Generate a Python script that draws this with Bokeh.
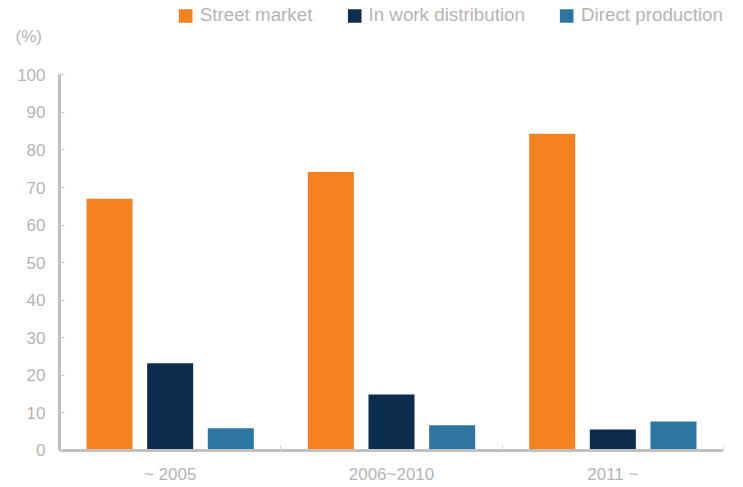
from bokeh.plotting import figure
from bokeh.models import (ColumnDataSource, Range1d, LinearAxis, FixedTicker,
                          Legend, LegendItem, Label)
from bokeh.transform import dodge
from bokeh.embed import file_html
from bokeh.resources import INLINE

# ---- data ----
periods = ["~ 2005", "2006~2010", "2011 ~"]
street_market = [67.0, 74.1, 84.3]
in_work_distribution = [23.2, 14.9, 5.6]
direct_production = [5.9, 6.7, 7.7]
y_ticks = [0, 10, 20, 30, 40, 50, 60, 70, 80, 90, 100]
series_names = ["Street market", "In work distribution", "Direct production"]
y_unit = "(%)"

# ---- styles ----
colors = ["#F4821F", "#0D2D4F", "#2C76A1"]
offsets = [-0.274, 0.0, 0.274]
bar_w = 0.208
axis_grey = "#c0c0c0"
tick_grey = "#cfcfcf"
text_grey = "#b5b5b5"
font = "Liberation Sans"

centers = [i + 0.5 for i in range(len(periods))]       # category slot centres
boundaries = [i + 1 for i in range(len(periods))]      # slot edges (ticks)

source = ColumnDataSource(dict(period=periods, pos=centers, street=street_market,
                               work=in_work_distribution, direct=direct_production))

p = figure(width=740, height=485, output_backend="svg", toolbar_location=None,
           x_range=Range1d(-0.2666, len(periods)),
           y_range=Range1d(-9.32, 118.71),
           x_axis_location=None, y_axis_location=None,
           min_border_left=0, min_border_right=17, min_border_top=4, min_border_bottom=0)
p.outline_line_color = None
p.xgrid.visible = False
p.ygrid.visible = False
p.background_fill_color = "white"
p.border_fill_color = "white"

renderers = []
for col, off, c in zip(["street", "work", "direct"], offsets, colors):
    r = p.vbar(x=dodge("pos", off), top=col, width=bar_w,
               source=source, fill_color=c, line_color=None)
    renderers.append(r)

# y axis, drawn at x = 0
yax = LinearAxis(bounds=(0, 100), fixed_location=0,
                 ticker=FixedTicker(ticks=y_ticks, minor_ticks=[]))
yax.axis_line_color = axis_grey
yax.axis_line_width = 3
yax.major_tick_in = 5
yax.major_tick_out = 0
yax.major_tick_line_color = tick_grey
yax.major_tick_line_width = 1
yax.minor_tick_line_color = None
yax.major_label_text_font = font
yax.major_label_text_font_size = "17px"
yax.major_label_text_color = text_grey
yax.major_label_standoff = 14
p.add_layout(yax, "left")

# x axis at y = 0: labels at slot centres, ticks at slot edges
xax = LinearAxis(bounds=(0, len(periods)), fixed_location=0,
                 ticker=FixedTicker(ticks=centers, minor_ticks=boundaries))
xax.major_label_overrides = {c: lab for c, lab in zip(centers, periods)}
xax.axis_line_color = axis_grey
xax.axis_line_width = 3
xax.major_tick_line_color = None
xax.major_tick_in = 0
xax.major_tick_out = 0
xax.minor_tick_in = 5
xax.minor_tick_out = 0
xax.minor_tick_line_color = tick_grey
xax.minor_tick_line_width = 1
xax.major_label_text_font = font
xax.major_label_text_font_size = "17px"
xax.major_label_text_color = text_grey
xax.major_label_standoff = 15
p.add_layout(xax, "below")

legend = Legend(items=[LegendItem(label=n, renderers=[r]) for n, r in zip(series_names, renderers)],
                orientation="horizontal", location="top_right",
                glyph_width=17, glyph_height=17, label_height=17, label_standoff=6,
                spacing=33, padding=0, margin=0,
                label_text_font=font, label_text_font_size="18.8px",
                label_text_color=text_grey,
                background_fill_alpha=0, border_line_color=None)
p.add_layout(legend, "center")

unit = Label(x=-0.1988, y=110.3, x_units="data", y_units="data", text=y_unit,
             text_font=font, text_font_size="17px", text_color=text_grey,
             text_align="left", text_baseline="middle")
p.add_layout(unit)

open("out.html", "w").write(file_html(p, INLINE))
